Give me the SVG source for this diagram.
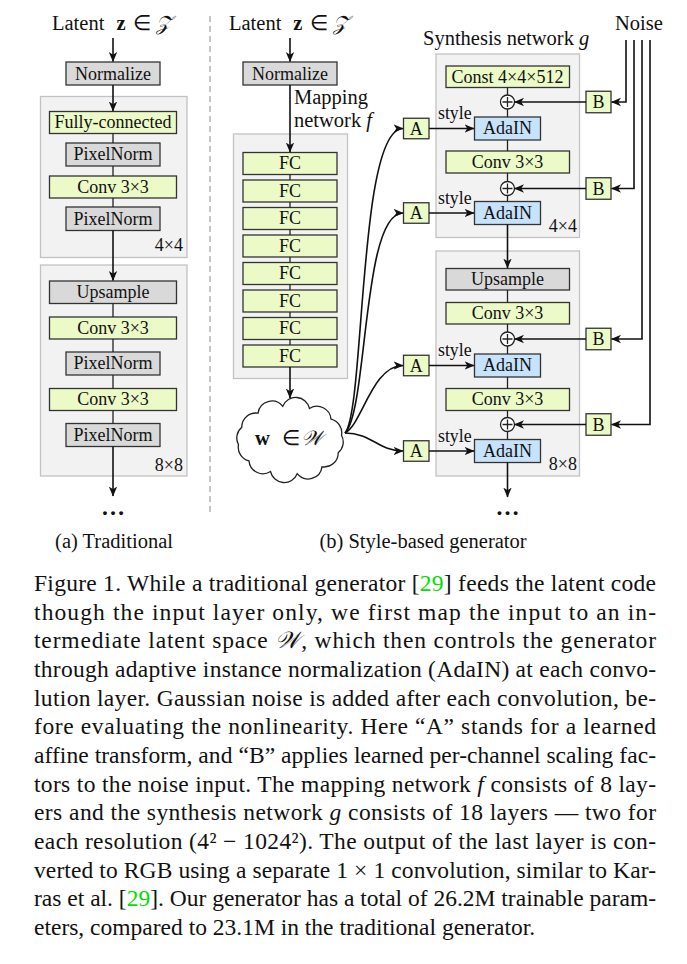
<svg xmlns="http://www.w3.org/2000/svg" width="687" height="964" viewBox="0 0 687 964">
<defs>
<marker id="arr" markerUnits="userSpaceOnUse" markerWidth="10" markerHeight="10" viewBox="0 0 10 10" refX="9.5" refY="5" orient="auto">
<path d="M0,0.8 L10,5 L0,9.2 L2.8,5 Z" fill="#111"/>
</marker>
</defs>
<style>
.grp{fill:#f2f2f2;stroke:#c2c2c2;stroke-width:1.3}
.gray{fill:#d9d9d9;stroke:#333;stroke-width:1.3}
.green{fill:#ebfac7;stroke:#333;stroke-width:1.3}
.blue{fill:#c6e3fb;stroke:#333;stroke-width:1.3}
.lbl{font-family:"Liberation Serif",serif;font-size:18px;text-anchor:middle;fill:#111}
.ttl{font-family:"Liberation Serif",serif;font-size:20.5px;fill:#111}
.res{font-family:"Liberation Serif",serif;font-size:18px;text-anchor:end;fill:#111}
.sty{font-family:"Liberation Serif",serif;font-size:17.8px;fill:#111}
.dots{font-family:"Liberation Serif",serif;font-size:24px;font-weight:bold;text-anchor:middle;fill:#111}
.cap{font-family:"Liberation Serif",serif;font-size:23.5px;fill:#111}
.ln{stroke:#222;stroke-width:1.3;fill:none}
.ar{stroke:#111;stroke-width:1.6;fill:none;marker-end:url(#arr)}
.math{font-family:"DejaVu Serif","Liberation Serif",serif}
</style>
<rect width="687" height="964" fill="#fff"/>

<!-- dashed separator -->
<line x1="210" y1="16" x2="210" y2="512" stroke="#aaa" stroke-width="1.3" stroke-dasharray="6,4"/>

<!-- LEFT PANEL -->
<g id="left-title"><text class="ttl" y="30"><tspan x="52">Latent</tspan><tspan x="116.5" font-weight="bold">z</tspan><tspan x="133">∈</tspan><tspan x="156" class="math" font-style="italic">𝒵</tspan></text></g>
<g id="left-group-4x4"><rect class="grp" x="40.5" y="96.5" width="146.5" height="161"/><text class="res" x="183" y="251">4×4</text></g>
<g id="left-group-8x8"><rect class="grp" x="40.5" y="265" width="146.5" height="211"/><text class="res" x="183" y="471">8×8</text></g>
<g id="left-normalize"><rect class="gray" x="66" y="62" width="94" height="23"/><text class="lbl" x="113" y="79.5">Normalize</text></g>
<g id="left-fc"><rect class="green" x="49.5" y="111.5" width="127" height="22"/><text class="lbl" x="113" y="128">Fully-connected</text></g>
<g id="left-pn1"><rect class="gray" x="66" y="143" width="94" height="23"/><text class="lbl" x="113" y="160">PixelNorm</text></g>
<g id="left-conv1"><rect class="green" x="49.5" y="176" width="127" height="22"/><text class="lbl" x="113" y="192.5">Conv 3×3</text></g>
<g id="left-pn2"><rect class="gray" x="66" y="207" width="94" height="23.5"/><text class="lbl" x="113" y="224.5">PixelNorm</text></g>
<g id="left-upsample"><rect class="gray" x="49.5" y="281" width="127" height="22.5"/><text class="lbl" x="113" y="298">Upsample</text></g>
<g id="left-conv2"><rect class="green" x="49.5" y="317" width="127" height="22"/><text class="lbl" x="113" y="333.5">Conv 3×3</text></g>
<g id="left-pn3"><rect class="gray" x="66" y="352" width="94" height="23"/><text class="lbl" x="113" y="369">PixelNorm</text></g>
<g id="left-conv3"><rect class="green" x="49.5" y="388.5" width="127" height="22"/><text class="lbl" x="113" y="405">Conv 3×3</text></g>
<g id="left-pn4"><rect class="gray" x="66" y="423.5" width="94" height="23"/><text class="lbl" x="113" y="440.5">PixelNorm</text></g>
<g id="left-dots"><text class="dots" x="113" y="515">…</text></g>
<g id="left-caption"><text class="ttl" x="114" y="548" text-anchor="middle">(a) Traditional</text></g>

<!-- MIDDLE PANEL -->
<g id="mid-title"><text class="ttl" y="30"><tspan x="229">Latent</tspan><tspan x="293.2" font-weight="bold">z</tspan><tspan x="309.7">∈</tspan><tspan x="332.7" class="math" font-style="italic">𝒵</tspan></text></g>
<g id="mid-normalize"><rect class="gray" x="243" y="62" width="94" height="23"/><text class="lbl" x="290" y="79.5">Normalize</text></g>
<g id="mapping-network"><rect class="grp" x="233.5" y="134" width="114" height="244.5"/>
<text class="ttl" x="294" y="104">Mapping</text><text class="ttl" x="294" y="127">network <tspan font-style="italic">f</tspan></text></g>
<g id="fc1"><rect class="green" x="243" y="152.5" width="94" height="22"/><text class="lbl" x="290" y="169">FC</text></g>
<g id="fc2"><rect class="green" x="243" y="180" width="94" height="22"/><text class="lbl" x="290" y="196.5">FC</text></g>
<g id="fc3"><rect class="green" x="243" y="207.5" width="94" height="22"/><text class="lbl" x="290" y="224">FC</text></g>
<g id="fc4"><rect class="green" x="243" y="235" width="94" height="22"/><text class="lbl" x="290" y="251.5">FC</text></g>
<g id="fc5"><rect class="green" x="243" y="262.5" width="94" height="22"/><text class="lbl" x="290" y="279">FC</text></g>
<g id="fc6"><rect class="green" x="243" y="290" width="94" height="22"/><text class="lbl" x="290" y="306.5">FC</text></g>
<g id="fc7"><rect class="green" x="243" y="317.5" width="94" height="22"/><text class="lbl" x="290" y="334">FC</text></g>
<g id="fc8"><rect class="green" x="243" y="345" width="94" height="22"/><text class="lbl" x="290" y="361.5">FC</text></g>
<g id="w-cloud">
<path d="M341.5,435.3 A14,14 0 0 1 338.2,452.8 A14,14 0 0 1 322,466.8 A14,14 0 0 1 297.2,473.7 A14,14 0 0 1 270.5,471.5 A14,14 0 0 1 249,460.9 A14,14 0 0 1 238.5,444.7 A14,14 0 0 1 241.8,427.3 A14,14 0 0 1 258,413.2 A14,14 0 0 1 282.8,406.3 A14,14 0 0 1 309.5,408.5 A14,14 0 0 1 331,419.1 A14,14 0 0 1 341.5,435.3 Z" fill="#fff" stroke="#222" stroke-width="1.3"/>
<text class="ttl" y="445" font-size="21"><tspan x="255" font-weight="bold">w</tspan><tspan x="281.5">∈</tspan><tspan x="301" class="math" font-style="italic">𝒲</tspan></text>
</g>
<g id="mid-caption"><text class="ttl" x="423" y="548" text-anchor="middle">(b) Style-based generator</text></g>

<!-- SYNTHESIS -->
<g id="synth-title"><text class="ttl" x="423" y="45">Synthesis network <tspan font-style="italic">g</tspan></text></g>
<g id="noise-label"><text class="ttl" x="615" y="30">Noise</text></g>
<g id="synth-4x4"><rect class="grp" x="436" y="54" width="143.5" height="183.5"/><text class="res" x="577" y="232">4×4</text></g>
<g id="synth-8x8"><rect class="grp" x="436" y="251" width="143.5" height="225"/><text class="res" x="577" y="470">8×8</text></g>
<g id="const"><rect class="green" x="446" y="66" width="123.5" height="21.5"/><text class="lbl" x="507.5" y="82.5">Const 4×4×512</text></g>
<g id="add1"><circle cx="507.5" cy="102" r="7" fill="#fff" stroke="#222" stroke-width="1.3"/><path class="ln" d="M502.5,102 H512.5 M507.5,97 V107"/></g>
<g id="adain1"><rect class="blue" x="474.5" y="117" width="66" height="23"/><text class="lbl" x="507.5" y="134">AdaIN</text></g>
<g id="sconv1"><rect class="green" x="446" y="151" width="123.5" height="22"/><text class="lbl" x="507.5" y="167.5">Conv 3×3</text></g>
<g id="add2"><circle cx="507.5" cy="188.5" r="7" fill="#fff" stroke="#222" stroke-width="1.3"/><path class="ln" d="M502.5,188.5 H512.5 M507.5,183.5 V193.5"/></g>
<g id="adain2"><rect class="blue" x="474.5" y="201.5" width="66" height="23"/><text class="lbl" x="507.5" y="218.5">AdaIN</text></g>
<g id="supsample"><rect class="gray" x="446" y="268.5" width="123.5" height="21.5"/><text class="lbl" x="507.5" y="285">Upsample</text></g>
<g id="sconv2"><rect class="green" x="446" y="302.5" width="123.5" height="21.5"/><text class="lbl" x="507.5" y="319">Conv 3×3</text></g>
<g id="add3"><circle cx="507.5" cy="339" r="7" fill="#fff" stroke="#222" stroke-width="1.3"/><path class="ln" d="M502.5,339 H512.5 M507.5,334 V344"/></g>
<g id="adain3"><rect class="blue" x="474.5" y="354" width="66" height="23"/><text class="lbl" x="507.5" y="371">AdaIN</text></g>
<g id="sconv3"><rect class="green" x="446" y="388.5" width="123.5" height="22"/><text class="lbl" x="507.5" y="405">Conv 3×3</text></g>
<g id="add4"><circle cx="507.5" cy="424.5" r="7" fill="#fff" stroke="#222" stroke-width="1.3"/><path class="ln" d="M502.5,424.5 H512.5 M507.5,419.5 V429.5"/></g>
<g id="adain4"><rect class="blue" x="474.5" y="439.5" width="66" height="23"/><text class="lbl" x="507.5" y="456.5">AdaIN</text></g>
<g id="synth-dots"><text class="dots" x="507.5" y="515">…</text></g>

<g id="A1"><rect class="green" x="403.5" y="118.25" width="25.5" height="20.5"/><text class="lbl" x="416.25" y="134.5">A</text></g>
<g id="A2"><rect class="green" x="403.5" y="202.75" width="25.5" height="20.5"/><text class="lbl" x="416.25" y="219">A</text></g>
<g id="A3"><rect class="green" x="403.5" y="355.25" width="25.5" height="20.5"/><text class="lbl" x="416.25" y="371.5">A</text></g>
<g id="A4"><rect class="green" x="403.5" y="440.75" width="25.5" height="20.5"/><text class="lbl" x="416.25" y="457">A</text></g>
<g id="B1"><rect class="green" x="586" y="91.25" width="25" height="21.5"/><text class="lbl" x="598.5" y="108">B</text></g>
<g id="B2"><rect class="green" x="586" y="177.75" width="25" height="21.5"/><text class="lbl" x="598.5" y="194.5">B</text></g>
<g id="B3"><rect class="green" x="586" y="328.25" width="25" height="21.5"/><text class="lbl" x="598.5" y="345">B</text></g>
<g id="B4"><rect class="green" x="586" y="413.75" width="25" height="21.5"/><text class="lbl" x="598.5" y="430.5">B</text></g>

<g id="style-labels">
<text class="sty" x="438" y="119">style</text>
<text class="sty" x="438" y="203.5">style</text>
<text class="sty" x="438" y="356">style</text>
<text class="sty" x="438" y="441.5">style</text>
</g>

<!-- CONNECTORS -->
<g id="connectors">
<!-- left -->
<path class="ar" d="M113,38 V61.5"/>
<path class="ar" d="M113,85 V111"/>
<path class="ln" d="M113,133.5 V143 M113,166 V176 M113,198 V207"/>
<path class="ar" d="M113,230.5 V280.5"/>
<path class="ln" d="M113,303.5 V317 M113,339 V352 M113,375 V388.5 M113,410.5 V423.5"/>
<path class="ar" d="M113,446.5 V496"/>
<!-- middle -->
<path class="ar" d="M290,38 V61.5"/>
<path class="ar" d="M290,85 V152"/>
<path class="ln" d="M290,174.5 V180 M290,202 V207.5 M290,229.5 V235 M290,257 V262.5 M290,284.5 V290 M290,312 V317.5 M290,339.5 V345"/>
<path class="ar" d="M290,367 V398"/>
<!-- cloud to A -->
<path class="ar" d="M345,433 C365,410 358,128.5 403,128.5"/>
<path class="ar" d="M345,433 C368,410 362,213 403,213"/>
<path class="ar" d="M345,433 C362,425 372,365.5 403,365.5"/>
<path class="ar" d="M345,433 C372,433 378,451 403,451"/>
<!-- A to AdaIN -->
<path class="ar" d="M429,128.5 H474"/>
<path class="ar" d="M429,213 H474"/>
<path class="ar" d="M429,365.5 H474"/>
<path class="ar" d="M429,451 H474"/>
<!-- synthesis chain -->
<path class="ln" d="M507.5,87.5 V95 M507.5,109 V117 M507.5,140 V151 M507.5,173 V181.5 M507.5,195.5 V201.5"/>
<path class="ar" d="M507.5,224.5 V268"/>
<path class="ln" d="M507.5,290 V302.5 M507.5,324 V332 M507.5,346 V354 M507.5,377 V388.5 M507.5,410.5 V417.5 M507.5,431.5 V439.5"/>
<path class="ar" d="M507.5,462.5 V497"/>
<!-- B to add -->
<path class="ar" d="M586,102 H514.5"/>
<path class="ar" d="M586,188.5 H514.5"/>
<path class="ar" d="M586,339 H514.5"/>
<path class="ar" d="M586,424.5 H514.5"/>
<!-- noise -->
<path class="ar" d="M626,40 V102 H611.5"/>
<path class="ar" d="M634,40 V188.5 H611.5"/>
<path class="ar" d="M642,40 V339 H611.5"/>
<path class="ar" d="M650,40 V424.5 H611.5"/>
</g>

<!-- CAPTION -->
<g id="figure-caption">
<text class="cap" x="34" y="591" textLength="622" lengthAdjust="spacing">Figure 1. While a traditional generator [<tspan fill="#00e000">29</tspan>] feeds the latent code</text>
<text class="cap" x="34" y="619.7" textLength="622" lengthAdjust="spacing">though the input layer only, we first map the input to an in-</text>
<text class="cap" x="34" y="648.3" textLength="622" lengthAdjust="spacing">termediate latent space <tspan class="math" font-style="italic">𝒲</tspan>, which then controls the generator</text>
<text class="cap" x="34" y="677" textLength="622" lengthAdjust="spacing">through adaptive instance normalization (AdaIN) at each convo-</text>
<text class="cap" x="34" y="705.7" textLength="622" lengthAdjust="spacing">lution layer. Gaussian noise is added after each convolution, be-</text>
<text class="cap" x="34" y="734.3" textLength="622" lengthAdjust="spacing">fore evaluating the nonlinearity. Here “A” stands for a learned</text>
<text class="cap" x="34" y="763" textLength="622" lengthAdjust="spacing">affine transform, and “B” applies learned per-channel scaling fac-</text>
<text class="cap" x="34" y="791.7" textLength="622" lengthAdjust="spacing">tors to the noise input. The mapping network <tspan font-style="italic">f</tspan> consists of 8 lay-</text>
<text class="cap" x="34" y="820.3" textLength="622" lengthAdjust="spacing">ers and the synthesis network <tspan font-style="italic">g</tspan> consists of 18 layers — two for</text>
<text class="cap" x="34" y="849" textLength="622" lengthAdjust="spacing">each resolution (4² − 1024²). The output of the last layer is con-</text>
<text class="cap" x="34" y="877.7" textLength="622" lengthAdjust="spacing">verted to RGB using a separate 1 × 1 convolution, similar to Kar-</text>
<text class="cap" x="34" y="906.3" textLength="622" lengthAdjust="spacing">ras et al. [<tspan fill="#00e000">29</tspan>]. Our generator has a total of 26.2M trainable param-</text>
<text class="cap" x="34" y="935">eters, compared to 23.1M in the traditional generator.</text>
</g>
</svg>
